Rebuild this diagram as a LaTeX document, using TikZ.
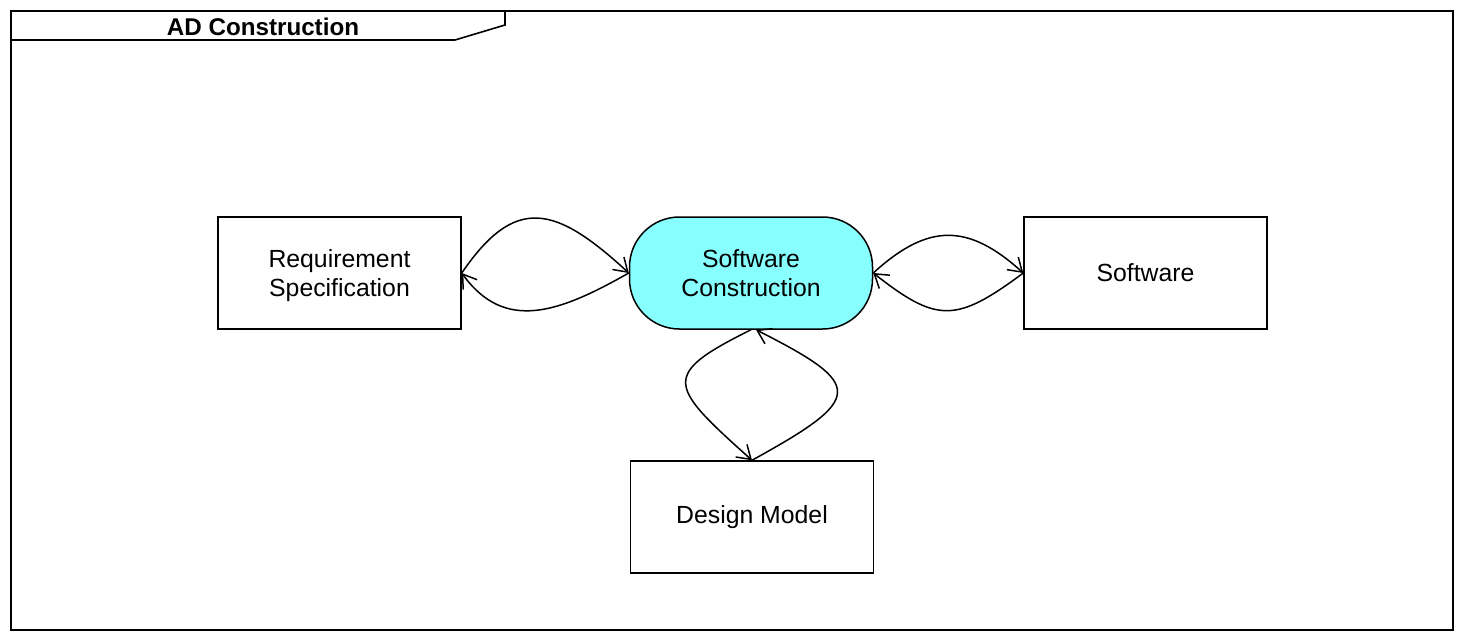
\documentclass[tikz,border=0pt]{standalone}
\usepackage{fontspec}
\setmainfont{Liberation Sans}
\usetikzlibrary{arrows.meta}
\definecolor{scfill}{HTML}{88FFFF}
\newcommand{\twolines}[2]{\rule{0pt}{25.7pt}#1\\#2\strut}
\begin{document}
\begin{tikzpicture}[x=1pt,y=-1pt,
  txt/.style={font=\fontsize{24.8}{29}\selectfont},
  box/.style={txt, draw, line width=1.5pt, minimum width=243pt, minimum height=112pt, inner sep=0pt, align=center},
  flow/.style={line width=1.5pt, -{Straight Barb[length=13pt,width=17pt]}},
  frame/.style={line width=1.6pt}]
\useasboundingbox (0,0) rectangle (1458,633);
\draw[frame] (11,11) rectangle (1453,630);
\draw[frame] (11,40) -- (455,40) -- (505,25) -- (505,11);
\node[font=\bfseries\fontsize{24.2}{29}\selectfont, inner sep=0pt] (title) at (263,27) {AD Construction};
\node[box] (req) at (339.5,273) {\twolines{Requirement}{Specification}};
\node[box, fill=scfill, rounded corners=50pt] (sc) at (751,273) {\twolines{Software}{Construction}};
\node[box] (sw) at (1145.5,273) {Software};
\node[box] (dm) at (752,517) {Design Model};
\draw[flow] (req.east) .. controls (515,195) and (555,205) .. (sc.west);
\draw[flow] (sc.west) .. controls (560,312) and (505,333) .. (req.east);
\draw[flow] (sc.east) .. controls (928,223) and (968,223) .. (sw.west);
\draw[flow] (sw.west) .. controls (956,323) and (937,323) .. (sc.east);
\draw[flow] (sc.south) .. controls (660,375) and (668,385) .. (dm.north);
\draw[flow] (dm.north) .. controls (865,398) and (865,385) .. ([xshift=5pt]sc.south);
\end{tikzpicture}
\end{document}
